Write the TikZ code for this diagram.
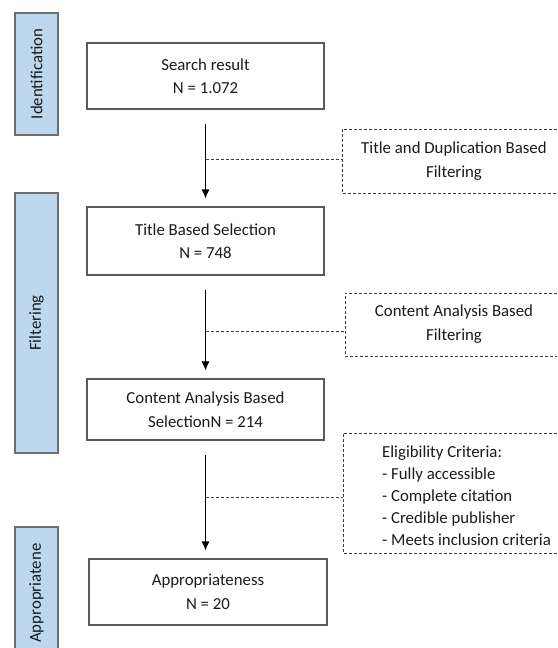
\documentclass[tikz,border=0pt]{standalone}
\usepackage{fontspec}
\setmainfont{Carlito}
\usetikzlibrary{arrows.meta}
\definecolor{barfill}{HTML}{BDD7EE}
\definecolor{barline}{HTML}{6E6E6E}
\definecolor{boxline}{HTML}{5A5A5A}
\definecolor{txt}{HTML}{1A1A1A}
\begin{document}
\begin{tikzpicture}[x=1pt,y=-1pt,
  font=\fontsize{16.8}{23.5}\selectfont, text=txt,
  stagebox/.style={draw=boxline, line width=1.2pt, minimum width=237pt, align=center, inner sep=0pt},
  sidebar/.style={draw=barline, fill=barfill, line width=1.2pt, rotate=90, minimum height=43pt, inner sep=0pt},
  flow/.style={-{Latex[length=9pt,width=8pt]}, line width=0.9pt, black, shorten <=14pt, shorten >=8pt},
  dashlink/.style={draw=black!75, line width=0.8pt, dash pattern=on 3pt off 2pt},
  notetext/.style={align=center, inner sep=0pt}
]
\useasboundingbox (0,0) rectangle (557,648);

% side bars
\node[sidebar, minimum width=122pt] (idbar) at (36.5,74) {Identification};
\node[sidebar, minimum width=260pt] (fibar) at (36.5,323) {Filtering};
\fill[barfill] (15,648) -- (15,527) -- (58,527) -- (58,648) -- cycle;
\draw[barline, line width=1.2pt] (15,648) -- (15,527) -- (58,527) -- (58,648);
\node[rotate=90, anchor=west, inner sep=0pt] (apbar) at (36.5,643) {Appropriatene};

% main boxes
\node[stagebox, minimum height=66pt] (s1) at (205.5,76) {Search result\\N = 1.072};
\node[stagebox, minimum height=68pt] (s2) at (205.5,241) {Title Based Selection\\N = 748};
\node[stagebox, minimum height=61pt] (s3) at (205.5,409.5) {Content Analysis Based\\SelectionN = 214};
\node[stagebox, minimum height=66pt, minimum width=238pt] (s4) at (208,592) {Appropriateness\\N = 20};

% arrows
\draw[flow] (s1.south) -- (s2.north);
\draw[flow] (s2.south) -- (s3.north);
\draw[flow] (s3.south) -- (s3.south |- s4.north);

% dashed note boxes
\draw[dashlink] (557,129) -- (342,129) -- (342,193) -- (557,193);
\node[notetext] (n1) at (454,161) {Title and Duplication Based\\Filtering};
\draw[dashlink] (557,293) -- (345,293) -- (345,356) -- (557,356);
\node[notetext] (n2) at (454,324) {Content Analysis Based\\Filtering};
\draw[dashlink] (557,433) -- (343,433) -- (343,553) -- (557,553);
\node[align=left, inner sep=0pt, anchor=west, font=\fontsize{16.8}{22}\selectfont] (n3) at (382,496) {Eligibility Criteria:\\- Fully accessible\\- Complete citation\\- Credible publisher\\- Meets inclusion criteria};

% dashed links from arrows
\coordinate (j1) at (205.5,159);
\coordinate (j2) at (205.5,331);
\coordinate (j3) at (205.5,497);
\coordinate (e1) at (342,159);
\coordinate (e2) at (345,331);
\coordinate (e3) at (343,497);
\draw[dashlink] (j1) -- (e1);
\draw[dashlink] (j2) -- (e2);
\draw[dashlink] (j3) -- (e3);
\end{tikzpicture}
\end{document}
